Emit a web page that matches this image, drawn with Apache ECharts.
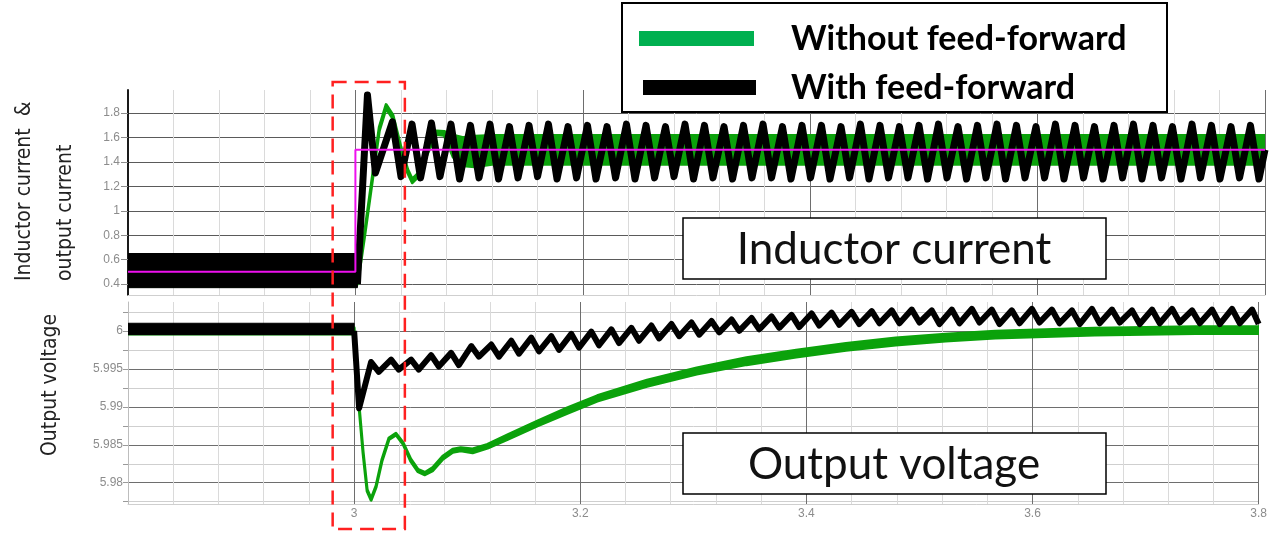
<!DOCTYPE html>
<html><head><meta charset="utf-8">
<script src="https://cdn.jsdelivr.net/npm/echarts@6/dist/echarts.min.js"></script>
<style>html,body{margin:0;padding:0;background:#fff}#c{width:1270px;height:534px}</style>
</head><body><div id="c"></div>
<script>
// ---------- axis ticks ----------
const xTicksMajor = 0.2;
const curTickVals = [0.4, 0.6, 0.8, 1, 1.2, 1.4, 1.6, 1.8];
const volLabelVals = [5.98, 5.985, 5.99, 5.995, 6];
const volGridVals = [5.9775, 5.98, 5.9825, 5.985, 5.9875, 5.99, 5.9925, 5.995, 5.9975, 6, 6.0025];

// ---------- output current (reference step) ----------
const ioT = [2.8, 3.0, 3.0, 3.8];
const ioV = [0.5, 0.5, 1.5, 1.5];

// ---------- inductor current, before the step (ripple band) ----------
const preCurT = [2.8, 3.0018];
const preCurLo = [0.37, 0.37];
const preCurHi = [0.65, 0.65];

// ---------- inductor current WITHOUT feed-forward (band edges) ----------
const gcT  = [2.8, 3.0005, 3.002, 3.008, 3.015, 3.021, 3.027, 3.033, 3.040, 3.046, 3.050, 3.056, 3.063, 3.071, 3.078, 3.086, 3.095, 3.105, 3.12, 3.8];
const gcLo = [0.382, 0.382, 0.405, 0.785, 1.255, 1.655, 1.84, 1.755, 1.495, 1.31, 1.23, 1.285, 1.46, 1.625, 1.62, 1.44, 1.37, 1.36, 1.382, 1.382];
const gcHi = [0.618, 0.618, 0.435, 0.815, 1.285, 1.685, 1.87, 1.785, 1.525, 1.34, 1.26, 1.315, 1.49, 1.655, 1.65, 1.62, 1.60, 1.61, 1.618, 1.618];

// ---------- inductor current WITH feed-forward ----------
const bcHeadT = [3.0018, 3.0106, 3.0176];
const bcHeadV = [0.40, 1.95, 1.31];
const bcPkT = [3.0326,3.0498,3.0669,3.0841,3.1012,3.1184,3.1355,3.1527,3.1698,3.1870,3.2041,3.2213,3.2384,3.2556,3.2727,3.2899,3.3070,3.3242,3.3413,3.3585,3.3756,3.3928,3.4099,3.4271,3.4442,3.4614,3.4785,3.4957,3.5128,3.5300,3.5471,3.5643,3.5814,3.5986,3.6157,3.6329,3.6500,3.6672,3.6843,3.7015,3.7186,3.7358,3.7529,3.7701,3.7872];
const bcPkV = [1.73,1.71,1.72,1.71,1.70,1.71,1.69,1.70,1.71,1.69,1.70,1.69,1.71,1.70,1.69,1.71,1.70,1.69,1.70,1.71,1.69,1.70,1.70,1.69,1.71,1.70,1.69,1.70,1.71,1.69,1.70,1.71,1.70,1.69,1.71,1.70,1.69,1.70,1.71,1.70,1.69,1.71,1.70,1.69,1.70];
const bcTrT = [3.0401,3.0573,3.0744,3.0916,3.1087,3.1259,3.1430,3.1602,3.1773,3.1945,3.2116,3.2288,3.2459,3.2631,3.2802,3.2974,3.3145,3.3317,3.3488,3.3660,3.3831,3.4003,3.4174,3.4346,3.4517,3.4689,3.4860,3.5032,3.5203,3.5375,3.5546,3.5718,3.5889,3.6061,3.6232,3.6404,3.6575,3.6747,3.6918,3.7090,3.7261,3.7433,3.7604,3.7776,3.7947];
const bcTrV = [1.28,1.27,1.28,1.26,1.27,1.26,1.27,1.28,1.26,1.27,1.26,1.27,1.26,1.27,1.28,1.26,1.27,1.26,1.27,1.27,1.26,1.27,1.26,1.27,1.26,1.27,1.27,1.26,1.27,1.26,1.27,1.26,1.27,1.27,1.26,1.27,1.26,1.27,1.26,1.27,1.26,1.27,1.26,1.27,1.26];
const bcTailT = [3.8];
const bcTailV = [1.50];

// ---------- output voltage, before the step (ripple band) ----------
const preVolT = [2.8, 3.0];
const preVolLo = [5.9995, 5.9995];
const preVolHi = [6.0010, 6.0010];

// ---------- output voltage WITHOUT feed-forward (band edges) ----------
const gvT  = [2.8, 3.0, 3.0018, 3.0044, 3.0079, 3.0115, 3.015, 3.0194, 3.0247, 3.0308, 3.037, 3.0432, 3.050, 3.0564, 3.0626, 3.0696, 3.0784, 3.0872, 3.0943, 3.1048, 3.118, 3.1357, 3.1621, 3.1885, 3.215, 3.259, 3.303, 3.347, 3.391, 3.435, 3.479, 3.523, 3.567, 3.655, 3.744, 3.8];
const gvLo = [5.9996, 5.9996, 5.9959, 5.9899, 5.9839, 5.9789, 5.9777, 5.9794, 5.9829, 5.9857, 5.9863, 5.9851, 5.98285, 5.98145, 5.98105, 5.9816, 5.9831, 5.9840, 5.9842, 5.98395, 5.98455, 5.9857, 5.9875, 5.98915, 5.99075, 5.9927, 5.9943, 5.99555, 5.99655, 5.99745, 5.99815, 5.99865, 5.99905, 5.99945, 5.99965, 5.99965];
const gvHi = [6.0004, 6.0004, 5.9961, 5.9901, 5.9841, 5.9791, 5.9779, 5.9796, 5.9831, 5.9859, 5.9865, 5.9853, 5.98315, 5.98175, 5.98135, 5.9820, 5.9835, 5.9844, 5.9846, 5.98445, 5.98505, 5.9863, 5.9881, 5.98985, 5.99145, 5.9935, 5.9951, 5.99645, 5.99745, 5.99835, 5.99905, 5.99955, 5.99995, 6.00035, 6.00055, 6.00055];

// ---------- output voltage WITH feed-forward ----------
const bvHeadT = [3.0, 3.0044];
const bvHeadV = [6.0, 5.9898];
const bvPkT = [3.0150,3.0327,3.0504,3.0681,3.0858,3.1036,3.1213,3.1390,3.1567,3.1744,3.1921,3.2098,3.2275,3.2452,3.2629,3.2807,3.2984,3.3161,3.3338,3.3515,3.3692,3.3869,3.4046,3.4223,3.4400,3.4578,3.4755,3.4932,3.5109,3.5286,3.5463,3.5640,3.5817,3.5994,3.6171,3.6349,3.6526,3.6703,3.6880,3.7057,3.7234,3.7411,3.7588,3.7765,3.7942];
const bvPkV = [5.9959,5.9962,5.9962,5.9968,5.9971,5.9980,5.9982,5.9987,5.9991,5.9993,5.9996,5.9999,6.0002,6.0004,6.0007,6.0009,6.0011,6.0013,6.0015,6.0017,6.0019,6.0021,6.0023,6.0024,6.0025,6.0026,6.0027,6.0028,6.0027,6.0028,6.0029,6.0028,6.0027,6.0029,6.0028,6.0027,6.0029,6.0028,6.0027,6.0028,6.0029,6.0027,6.0028,6.0029,6.0028];
const bvTrT = [3.0218,3.0395,3.0572,3.0749,3.0926,3.1104,3.1281,3.1458,3.1635,3.1812,3.1989,3.2166,3.2343,3.2520,3.2697,3.2875,3.3052,3.3229,3.3406,3.3583,3.3760,3.3937,3.4114,3.4291,3.4468,3.4646,3.4823,3.5000,3.5177,3.5354,3.5531,3.5708,3.5885,3.6062,3.6239,3.6417,3.6594,3.6771,3.6948,3.7125,3.7302,3.7479,3.7656,3.7833,3.8000];
const bvTrV = [5.9946,5.9949,5.9949,5.9953,5.9955,5.9966,5.9966,5.9970,5.9973,5.9975,5.9978,5.9981,5.9984,5.9987,5.9990,5.9993,5.9995,5.9998,6.0000,6.0002,6.0004,6.0005,6.0007,6.0008,6.0009,6.0010,6.0010,6.0011,6.0009,6.0010,6.0011,6.0009,6.0010,6.0011,6.0010,6.0009,6.0010,6.0011,6.0009,6.0010,6.0011,6.0010,6.0009,6.0010,6.0009];

// ---------- texts ----------
const legendNames = ['Without feed-forward', 'With feed-forward'];
const topAxisName = ['Inductor current  &', 'output current'];
const bottomAxisName = 'Output voltage';
const annotTop = 'Inductor current';
const annotBottom = 'Output voltage';
const zoomWindow = [2.98, 3.0435];

// ---------- helpers ----------
function pairs(ts, vs) { return ts.map((t, i) => [t, vs[i]]); }
function zig(headT, headV, pkT, pkV, trT, trV, tailT, tailV) {
  const out = pairs(headT, headV);
  for (let i = 0; i < pkT.length; i++) { out.push([pkT[i], pkV[i]]); out.push([trT[i], trV[i]]); }
  return out.concat(pairs(tailT || [], tailV || []));
}
function band(name, ts, lo, hi, color, idx, z, sw) {
  return {
    type: 'custom', name: name, xAxisIndex: idx, yAxisIndex: idx, z: z, clip: true, silent: true,
    animation: false,
    data: [[ts[0], lo[0]]],
    renderItem: function (params, api) {
      const pts = [];
      for (let i = 0; i < ts.length; i++) pts.push(api.coord([ts[i], hi[i]]));
      for (let i = ts.length - 1; i >= 0; i--) pts.push(api.coord([ts[i], lo[i]]));
      return { type: 'polygon', shape: { points: pts },
        style: { fill: color, stroke: color, lineWidth: sw || 1, lineJoin: 'round' } };
    }
  };
}
const GREEN = '#0ba20b';
const LBL = { color: '#8c8c8c', fontSize: 12, fontFamily: '"Liberation Sans", Arial, sans-serif' };
const NARROW = '"Liberation Sans Narrow", "DejaVu Sans Condensed", "Roboto Condensed", Roboto, sans-serif';

function xAxisCfg(gi, showLabels) {
  return {
    type: 'value', gridIndex: gi, min: 2.8, max: 3.8, interval: xTicksMajor,
    axisLine: { show: true, lineStyle: { color: '#cfcfcf', width: 1 } },
    axisTick: { show: false },
    axisLabel: { show: showLabels, showMinLabel: false, showMaxLabel: true, margin: 4, ...LBL },
    splitLine: { show: true, lineStyle: { color: '#6e6e6e', width: 1 } },
    minorTick: { show: false, splitNumber: 5 },
    minorSplitLine: { show: true, lineStyle: { color: '#dadada', width: 1 } }
  };
}

const chart = echarts.init(document.getElementById('c'), null, { renderer: 'canvas' });
const option = {
  animation: false,
  backgroundColor: '#fff',
  grid: [
    { left: 128, right: 5, top: 90, height: 205 },
    { left: 128, right: 5, top: 302, height: 202 }
  ],
  xAxis: [xAxisCfg(0, false), xAxisCfg(1, true)],
  yAxis: [
    {
      type: 'value', gridIndex: 0, min: 0.31, max: 1.99,
      axisLine: { show: true, onZero: false, lineStyle: { color: '#1a1a1a', width: 2 } },
      axisTick: { show: true, length: 7, customValues: curTickVals, lineStyle: { color: '#8c8c8c' } },
      axisLabel: { show: true, customValues: curTickVals, margin: 8, ...LBL },
      splitLine: { show: true, lineStyle: { color: '#5a5a5a', width: 1 } }
    },
    {
      type: 'value', gridIndex: 1, min: 5.9772, max: 6.0038,
      axisLine: { show: true, onZero: false, lineStyle: { color: '#bdbdbd', width: 1 } },
      axisTick: { show: true, length: 5, customValues: volGridVals, lineStyle: { color: '#9a9a9a' } },
      axisLabel: { show: true, customValues: volLabelVals, margin: 5, ...LBL },
      splitLine: { show: true, lineStyle: { color: ['#cfcfcf', '#6e6e6e'], width: 1 } }
    }
  ],
  series: [
    band('gc', gcT, gcLo, gcHi, GREEN, 0, 2, 3),
    band('bcPre', preCurT, preCurLo, preCurHi, '#000', 0, 3, 1),
    { type: 'line', name: legendNames[1], xAxisIndex: 0, yAxisIndex: 0, z: 3, symbol: 'none', clip: true,
      data: zig(bcHeadT, bcHeadV, bcPkT, bcPkV, bcTrT, bcTrV, bcTailT, bcTailV),
      lineStyle: { color: '#000', width: 7, join: 'round' } },
    { type: 'line', name: 'io', xAxisIndex: 0, yAxisIndex: 0, z: 4, symbol: 'none',
      data: pairs(ioT, ioV), lineStyle: { color: '#ee10ee', width: 2 } },
    band('gv', gvT, gvLo, gvHi, GREEN, 1, 2, 3),
    band('bvPre', preVolT, preVolLo, preVolHi, '#000', 1, 3, 1),
    { type: 'line', name: legendNames[1] + ' v', xAxisIndex: 1, yAxisIndex: 1, z: 3, symbol: 'none', clip: true,
      data: zig(bvHeadT, bvHeadV, bvPkT, bvPkV, bvTrT, bvTrV),
      lineStyle: { color: '#000', width: 6, join: 'round' } }
  ]
};
chart.setOption(option);

const x0 = chart.convertToPixel({ xAxisIndex: 0 }, zoomWindow[0]);
const x1 = chart.convertToPixel({ xAxisIndex: 0 }, zoomWindow[1]);
const BOLD = 'bold 34px Lato, "Open Sans", sans-serif';
const REG = '44px Lato, "Open Sans", sans-serif';
chart.setOption({
  graphic: [
    { type: 'rect', z: 100, shape: { x: 622, y: 3, width: 545, height: 109 }, style: { fill: '#fff', stroke: '#000', lineWidth: 2 } },
    { type: 'rect', z: 101, shape: { x: 639, y: 31, width: 115, height: 15 }, style: { fill: '#00b050' } },
    { type: 'rect', z: 101, shape: { x: 643, y: 80, width: 113, height: 15 }, style: { fill: '#000' } },
    { type: 'text', z: 101, x: 791, y: 39, style: { text: legendNames[0], font: BOLD, fill: '#000', textAlign: 'left', textVerticalAlign: 'middle' } },
    { type: 'text', z: 101, x: 791, y: 88, style: { text: legendNames[1], font: BOLD, fill: '#000', textAlign: 'left', textVerticalAlign: 'middle' } },
    { type: 'rect', z: 100, shape: { x: 683, y: 218, width: 423, height: 61 }, style: { fill: '#fff', stroke: '#000', lineWidth: 1.5 } },
    { type: 'text', z: 101, x: 894, y: 250, style: { text: annotTop, font: REG, fill: '#111', textAlign: 'center', textVerticalAlign: 'middle' } },
    { type: 'rect', z: 100, shape: { x: 683, y: 433, width: 423, height: 61 }, style: { fill: '#fff', stroke: '#000', lineWidth: 1.5 } },
    { type: 'text', z: 101, x: 894, y: 465, style: { text: annotBottom, font: REG, fill: '#111', textAlign: 'center', textVerticalAlign: 'middle' } },
    { type: 'text', z: 101, x: 25, y: 281, rotation: Math.PI / 2, style: { text: topAxisName[0], font: '21px ' + NARROW, fill: '#222', textAlign: 'left', textVerticalAlign: 'middle' } },
    { type: 'text', z: 101, x: 66, y: 281, rotation: Math.PI / 2, style: { text: topAxisName[1], font: '21px ' + NARROW, fill: '#222', textAlign: 'left', textVerticalAlign: 'middle' } },
    { type: 'text', z: 101, x: 51, y: 456, rotation: Math.PI / 2, style: { text: bottomAxisName, font: '21px ' + NARROW, fill: '#222', textAlign: 'left', textVerticalAlign: 'middle' } },
    { type: 'rect', z: 110, shape: { x: x0, y: 82, width: x1 - x0, height: 447 }, style: { fill: 'none', stroke: '#ff2020', lineWidth: 2.5, lineDash: [14, 8] } }
  ]
});
</script></body></html>
